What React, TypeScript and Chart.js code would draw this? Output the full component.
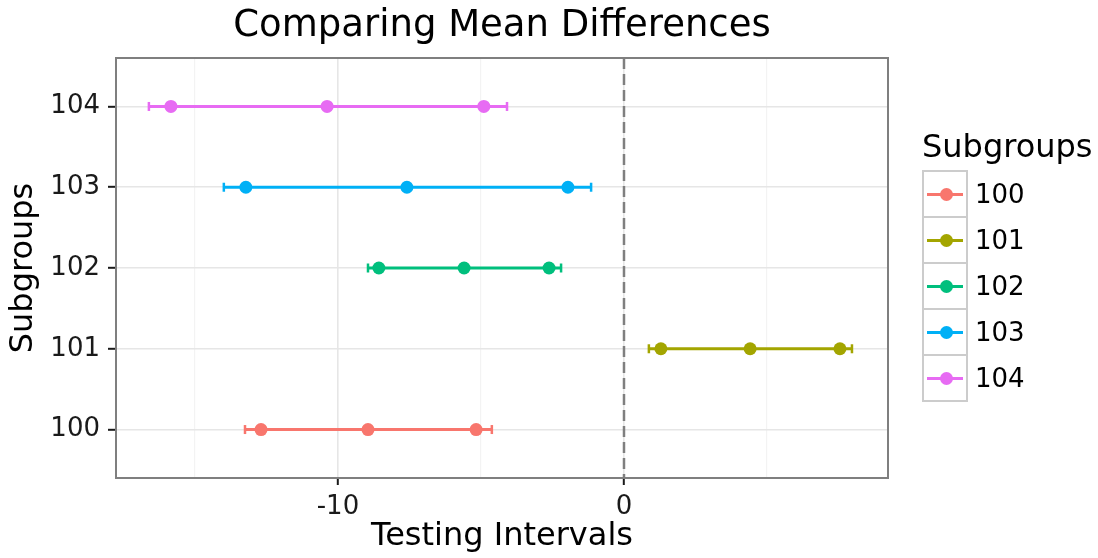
import React, { useEffect, useRef } from "react";
import { Chart, registerables } from "chart.js";

Chart.register(...registerables);

const subgroups = ["100", "101", "102", "103", "104"];
const colors = ["#F8766D", "#A3A500", "#00BF7D", "#00B0F6", "#E76BF3"];
const lowerPoint = [-12.69, 1.29, -8.57, -13.22, -15.84];
const meanDiff = [-8.95, 4.41, -5.59, -7.59, -10.38];
const upperPoint = [-5.17, 7.55, -2.62, -1.96, -4.9];
const barLow = [-13.25, 0.87, -8.95, -13.99, -16.61];
const barHigh = [-4.62, 7.97, -2.2, -1.15, -4.09];
const xMajorTicks = [-10, 0];
const xMinorTicks = [-15, -5, 5];
const refLine = 0;
const xRange = [-17.76, 9.23];

const FONT = "'DejaVu Sans', sans-serif";

const panelPlugin = {
  id: "panelExtras",
  beforeDatasetsDraw(chart: any) {
    const { ctx, chartArea, scales } = chart;
    const x = scales.x.getPixelForValue(refLine);
    ctx.save();
    ctx.strokeStyle = "#7f7f7f";
    ctx.lineWidth = 2.5;
    ctx.setLineDash([11, 5]);
    ctx.beginPath();
    ctx.moveTo(x, chartArea.top);
    ctx.lineTo(x, chartArea.bottom);
    ctx.stroke();
    ctx.restore();
  },
  afterDatasetsDraw(chart: any) {
    const { ctx, chartArea } = chart;
    ctx.save();
    ctx.strokeStyle = "#7f7f7f";
    ctx.lineWidth = 2;
    ctx.strokeRect(chartArea.left, chartArea.top, chartArea.right - chartArea.left, chartArea.bottom - chartArea.top);
    ctx.restore();
  },
};

export default function App() {
  const ref = useRef<HTMLCanvasElement | null>(null);

  useEffect(() => {
    if (!ref.current) return;
    const datasets: any[] = [];
    subgroups.forEach((g, i) => {
      datasets.push({
        label: g + " points",
        data: [
          { x: lowerPoint[i], y: i },
          { x: meanDiff[i], y: i },
          { x: upperPoint[i], y: i },
        ],
        showLine: false,
        pointRadius: 6.5,
        pointBackgroundColor: colors[i],
        pointBorderWidth: 0,
        borderColor: colors[i],
        order: 0,
      });
      datasets.push({
        label: g + " interval",
        data: [
          { x: barLow[i], y: i },
          { x: barHigh[i], y: i },
        ],
        showLine: true,
        borderColor: colors[i],
        borderWidth: 3,
        pointStyle: "line",
        rotation: 90,
        pointRadius: 4.5,
        pointBorderWidth: 2.5,
        pointBorderColor: colors[i],
        order: 1,
      });
    });

    const allX = [...xMinorTicks, ...xMajorTicks].sort((a, b) => a - b);

    const chart = new Chart(ref.current, {
      type: "scatter",
      data: { datasets },
      plugins: [panelPlugin],
      options: {
        animation: false,
        responsive: false,
        maintainAspectRatio: false,
        layout: { padding: { top: 58, right: 210, bottom: 0, left: 0 } },
        plugins: {
          legend: { display: false },
          tooltip: { enabled: false },
          title: { display: false },
        },
        scales: {
          x: {
            type: "linear",
            min: xRange[0],
            max: xRange[1],
            afterBuildTicks: (s: any) => {
              s.ticks = allX.map((v) => ({ value: v }));
            },
            afterFit: (s: any) => {
              s.height = 80;
            },
            ticks: {
              autoSkip: false,
              maxRotation: 0,
              padding: 7,
              color: "#1a1a1a",
              font: { family: FONT, size: 26 },
              callback: (v: any) => (xMajorTicks.includes(v) ? String(v) : ""),
            },
            grid: {
              drawOnChartArea: true,
              tickLength: 7,
              color: (c: any) => (c.tick && xMajorTicks.includes(c.tick.value) ? "#e6e6e6" : "#f3f3f3"),
              lineWidth: (c: any) => (c.tick && xMajorTicks.includes(c.tick.value) ? 1.6 : 1.2),
              tickColor: (c: any) => (c.tick && xMajorTicks.includes(c.tick.value) ? "#1a1a1a" : "rgba(0,0,0,0)"),
              tickWidth: 2,
            },
            border: { display: false },
            title: {
              display: true,
              text: "Testing Intervals",
              color: "#000",
              font: { family: FONT, size: 32 },
              padding: { top: 0, bottom: 2 },
            },
          },
          y: {
            type: "linear",
            min: -0.6,
            max: 4.6,
            afterBuildTicks: (s: any) => {
              s.ticks = subgroups.map((_, i) => ({ value: i }));
            },
            afterFit: (s: any) => {
              s.width = 116;
            },
            ticks: {
              autoSkip: false,
              padding: 8,
              color: "#1a1a1a",
              font: { family: FONT, size: 26 },
              callback: (v: any) => subgroups[v] ?? "",
            },
            grid: {
              tickLength: 8,
              color: "#e6e6e6",
              lineWidth: 1.6,
              tickColor: "#1a1a1a",
              tickWidth: 2,
            },
            border: { display: false },
            title: {
              display: true,
              text: "Subgroups",
              color: "#000",
              font: { family: FONT, size: 32 },
              padding: { top: 4, bottom: 0 },
            },
          },
        },
      },
    });
    return () => chart.destroy();
  }, []);

  return (
    <div style={{ position: "fixed", left: 0, top: 0, width: 1098, height: 558, background: "#fff", fontFamily: FONT }}>
      <canvas ref={ref} width={1098} height={558} style={{ position: "absolute", left: 0, top: 0 }} />
      <div
        style={{
          position: "absolute",
          left: 116,
          width: 772,
          top: 2,
          textAlign: "center",
          fontSize: 37,
          lineHeight: "44px",
          color: "#000",
          whiteSpace: "nowrap",
        }}
      >
        Comparing Mean Differences
      </div>
      <div style={{ position: "absolute", left: 922, top: 127, fontSize: 32, lineHeight: "38px", color: "#000", whiteSpace: "nowrap" }}>
        Subgroups
      </div>
      {subgroups.map((g, i) => (
        <div
          key={g}
          style={{
            position: "absolute",
            left: 922,
            top: 170 + i * 46,
            width: 46,
            height: 48,
            boxSizing: "border-box",
            border: "2px solid #cccccc",
            background: "#fff",
          }}
        >
          <div style={{ position: "absolute", left: 3, right: 3, top: 20.5, height: 3, background: colors[i] }} />
          <div
            style={{
              position: "absolute",
              left: 15.5,
              top: 15.5,
              width: 13,
              height: 13,
              borderRadius: "50%",
              background: colors[i],
            }}
          />
        </div>
      ))}
      {subgroups.map((g, i) => (
        <div
          key={"l" + g}
          style={{
            position: "absolute",
            left: 975,
            top: 170 + i * 46,
            height: 48,
            display: "flex",
            alignItems: "center",
            fontSize: 26,
            color: "#000",
          }}
        >
          {g}
        </div>
      ))}
    </div>
  );
}
